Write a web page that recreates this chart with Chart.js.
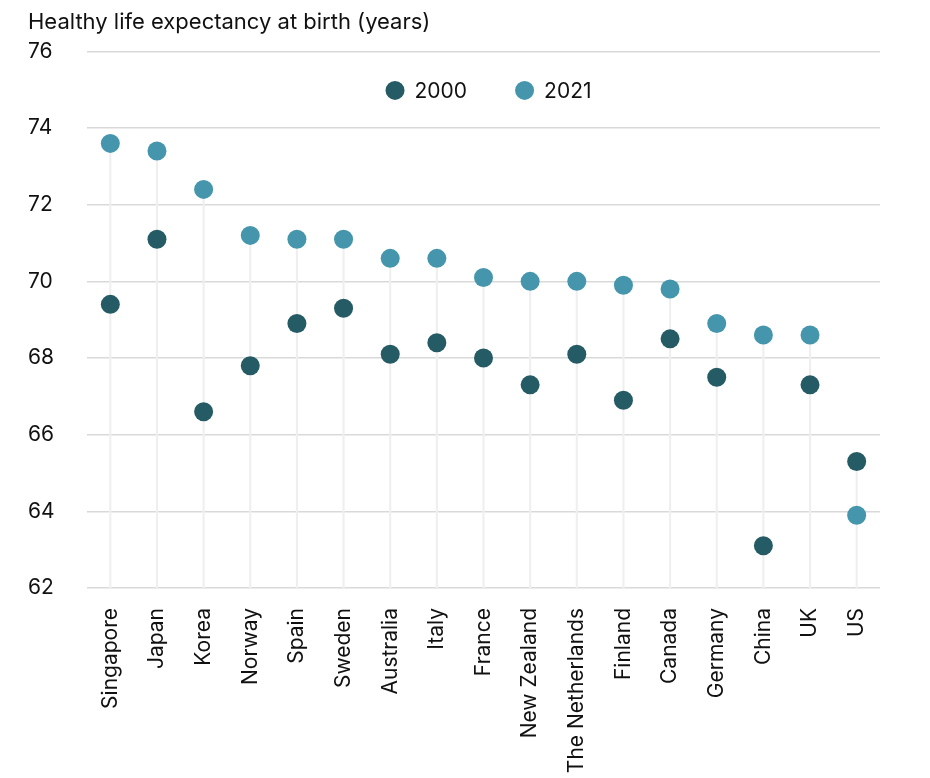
<!DOCTYPE html>
<html>
<head>
<meta charset="utf-8">
<script src="https://cdn.jsdelivr.net/npm/chart.js@4.4.1/dist/chart.umd.min.js"></script>
<style>
  html, body { margin: 0; padding: 0; background: #fff; }
  #wrap { width: 930px; height: 778px; position: relative; }
</style>
</head>
<body>
<div id="wrap"><canvas id="dots"></canvas></div>
<script>
// data
var countries = ['Singapore', 'Japan', 'Korea', 'Norway', 'Spain', 'Sweden', 'Australia', 'Italy',
  'France', 'New Zealand', 'The Netherlands', 'Finland', 'Canada', 'Germany', 'China', 'UK', 'US'];
var hale2000 = [69.4, 71.1, 66.6, 67.8, 68.9, 69.3, 68.1, 68.4, 68.0, 67.3, 68.1, 66.9, 68.5, 67.5, 63.1, 67.3, 65.3];
var hale2021 = [73.6, 73.4, 72.4, 71.2, 71.1, 71.1, 70.6, 70.6, 70.1, 70.0, 70.0, 69.9, 69.8, 68.9, 68.6, 68.6, 63.9];
var yTicks = [62, 64, 66, 68, 70, 72, 74, 76];

var colors = {
  y2000: '#255b64',
  y2021: '#4596ad',
  grid: '#d9d9d9',
  stem: '#efefef',
  text: '#111111'
};
var fontFamily = 'Inter, "Noto Sans", sans-serif';

// faint stems from the axis up to the higher dot
var stems = countries.map(function (c, i) {
  return [yTicks[0], Math.max(hale2000[i], hale2021[i])];
});

// legend sits inside the plot, under the top gridline
var dotLegend = {
  id: 'dotLegend',
  afterDraw: function (chart) {
    var ctx = chart.ctx;
    var area = chart.chartArea;
    var items = chart.data.datasets.filter(function (d) { return d.type === 'line'; });
    ctx.save();
    ctx.font = '21px ' + fontFamily;
    ctx.textBaseline = 'middle';
    var gap = 48, r = 9.5, textGap = 10;
    var widths = items.map(function (d) { return r * 2 + textGap + ctx.measureText(d.label).width; });
    var total = widths.reduce(function (a, b) { return a + b; }, 0) + gap * (items.length - 1);
    var x = (area.left + area.right) / 2 - total / 2 + 5;
    var y = area.top + 39;
    items.forEach(function (d, i) {
      ctx.fillStyle = d.backgroundColor;
      ctx.beginPath();
      ctx.arc(x + r, y, r, 0, Math.PI * 2);
      ctx.fill();
      ctx.fillStyle = colors.text;
      ctx.fillText(d.label, x + r * 2 + textGap, y + 1);
      x += widths[i] + gap;
    });
    ctx.restore();
  }
};

new Chart(document.getElementById('dots'), {
  type: 'bar',
  data: {
    labels: countries,
    datasets: [
      {
        type: 'line',
        label: '2000',
        data: hale2000,
        showLine: false,
        pointRadius: 9.5,
        pointHoverRadius: 9.5,
        backgroundColor: colors.y2000,
        borderColor: colors.y2000,
        borderWidth: 0,
        order: 1
      },
      {
        type: 'line',
        label: '2021',
        data: hale2021,
        showLine: false,
        pointRadius: 9.5,
        pointHoverRadius: 9.5,
        backgroundColor: colors.y2021,
        borderColor: colors.y2021,
        borderWidth: 0,
        order: 2
      },
      {
        type: 'bar',
        label: 'stem',
        data: stems,
        backgroundColor: colors.stem,
        barThickness: 1.5,
        order: 3
      }
    ]
  },
  options: {
    responsive: true,
    maintainAspectRatio: false,
    animation: false,
    layout: { padding: { left: 28, right: 50, top: 4, bottom: 0 } },
    plugins: {
      legend: { display: false },
      tooltip: { enabled: false },
      title: {
        display: true,
        text: 'Healthy life expectancy at birth (years)',
        align: 'start',
        color: colors.text,
        font: { family: fontFamily, size: 22, weight: 'normal' },
        padding: { top: 5, bottom: 16 }
      }
    },
    scales: {
      x: {
        offset: true,
        grid: { display: false },
        border: { display: false },
        afterFit: function (axis) { axis.height = 190; },
        ticks: {
          color: colors.text,
          font: { family: fontFamily, size: 21 },
          minRotation: 90,
          maxRotation: 90,
          padding: 12,
          autoSkip: false
        }
      },
      y: {
        min: yTicks[0],
        max: yTicks[yTicks.length - 1],
        afterBuildTicks: function (axis) {
          axis.ticks = yTicks.map(function (v) { return { value: v }; });
        },
        afterFit: function (axis) { axis.width = 59; },
        grid: { color: colors.grid, lineWidth: 1.5, drawTicks: false },
        border: { display: false },
        ticks: {
          color: colors.text,
          font: { family: fontFamily, size: 21 },
          crossAlign: 'far',
          padding: 8
        }
      }
    }
  },
  plugins: [dotLegend]
});
</script>
</body>
</html>
